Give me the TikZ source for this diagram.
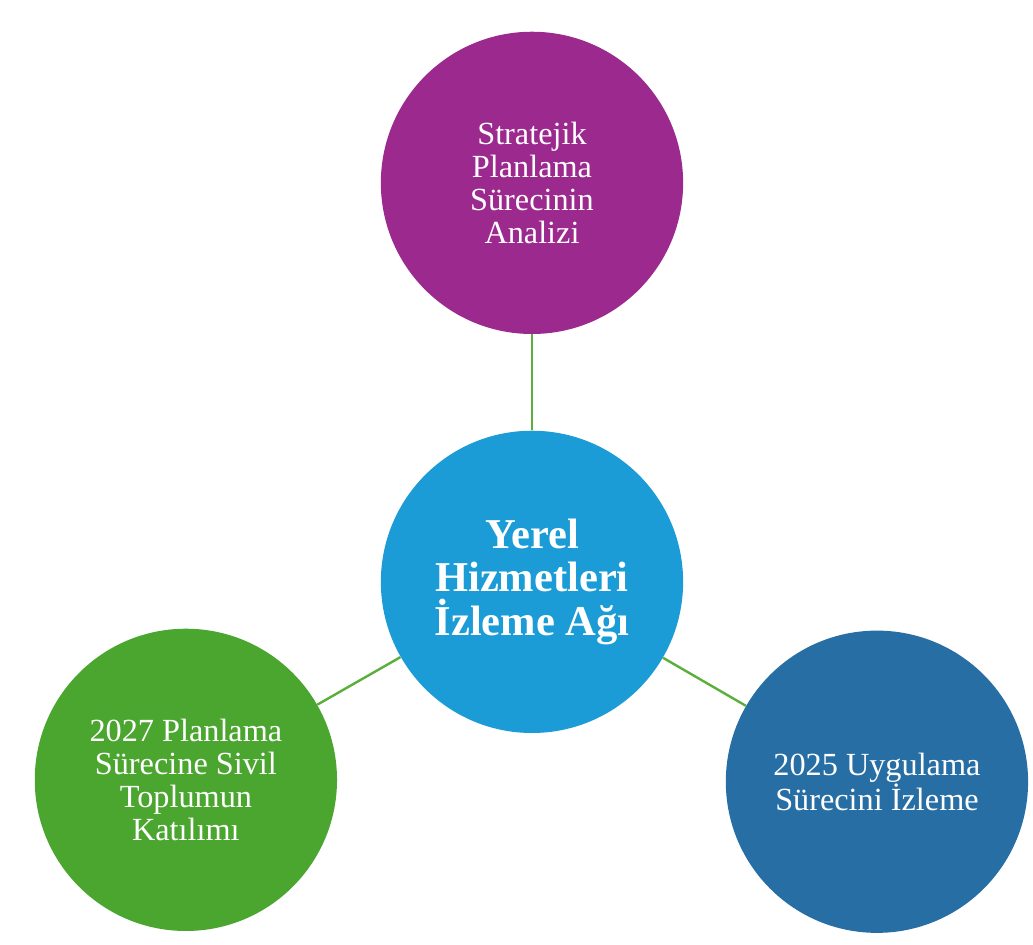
\documentclass[tikz,border=0pt]{standalone}
\usepackage{fontspec}
\setmainfont{Liberation Serif}

\definecolor{planmor}{RGB}{155,41,142}
\definecolor{agmavi}{RGB}{27,156,214}
\definecolor{sivilyesil}{RGB}{74,166,47}
\definecolor{izlemavi}{RGB}{38,110,163}
\definecolor{baglayesil}{RGB}{92,174,58}

\begin{document}
\begin{tikzpicture}
   \useasboundingbox (-14.08,-9.60) rectangle (13.26,15.40);
   \begin{scope}[every node/.style={circle,minimum size=8cm,inner sep=0pt,text=white,align=center,
                 font=\fontsize{24.3}{25}\selectfont}]
    \node[fill=agmavi,font=\bfseries\fontsize{32}{33}\selectfont] (m) at (0,0) {Yerel\\Hizmetleri\\İzleme Ağı};
    \node[fill=planmor] (t) at (0,10.56) {Stratejik\\Planlama\\Sürecinin\\Analizi};
    \node[fill=sivilyesil] (l) at (-9.16,-5.24) {2027 Planlama\\Sürecine Sivil\\Toplumun\\Katılımı};
    \node[fill=izlemavi] (r) at (9.13,-5.29) {2025 Uygulama\\Sürecini İzleme};
   \end{scope}
   \begin{scope}[every edge/.style={draw=baglayesil,line width=1.8pt}]
    \draw  (m) edge (t);
    \draw  (m) edge (l);
    \draw  (m) edge (r);
   \end{scope}
\end{tikzpicture}
\end{document}
